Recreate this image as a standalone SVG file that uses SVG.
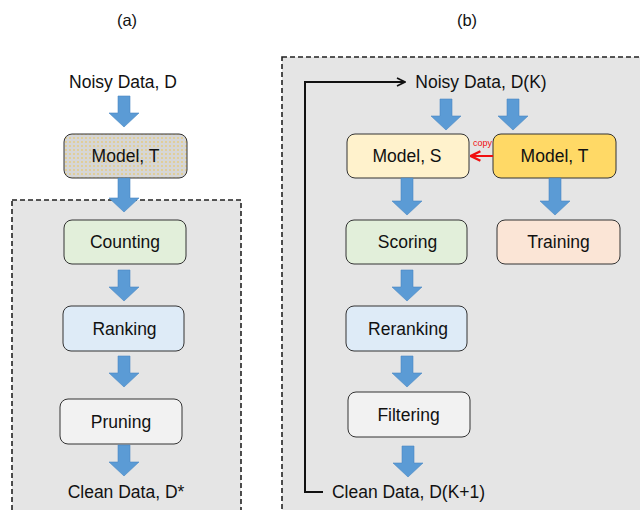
<svg xmlns="http://www.w3.org/2000/svg" width="640" height="510" viewBox="0 0 640 510">
<defs>
<style>
text{font-family:"Liberation Sans",Arial,sans-serif;fill:#111;text-anchor:middle}
.lbl{font-size:17.5px}
.ttl{font-size:16.5px}
.panel{fill:#e5e5e5;stroke:#222;stroke-width:1.6;stroke-dasharray:5 3}
.box{stroke:#333;stroke-width:1}
.arr{fill:#5b9bd5;stroke:#4a88c2;stroke-width:0.6}
.fb{fill:none;stroke:#111;stroke-width:2}
</style>
<pattern id="dots" width="4" height="4" patternUnits="userSpaceOnUse">
<rect width="4" height="4" fill="#d6d6d6"/>
<circle cx="2" cy="2" r="0.7" fill="#f2c230"/>
</pattern>
<marker id="open" viewBox="0 0 10 10" refX="9" refY="5" markerWidth="5" markerHeight="5" orient="auto" markerUnits="strokeWidth">
<path d="M1 1 L9 5 L1 9" fill="none" stroke="#111" stroke-width="1.6"/>
</marker>
<marker id="red" viewBox="0 0 10 10" refX="8" refY="5" markerWidth="6" markerHeight="6" orient="auto" markerUnits="strokeWidth">
<path d="M1 1 L9 5 L1 9" fill="none" stroke="#f01010" stroke-width="2"/>
</marker>
</defs>

<text class="ttl" x="127" y="26">(a)</text>
<text class="ttl" x="467" y="26">(b)</text>

<rect class="panel" x="12" y="200" width="229" height="330"/>
<rect class="panel" x="282" y="57" width="380" height="470"/>

<g id="a-noisy"><text class="lbl" x="123" y="88">Noisy Data, D</text></g>
<g id="a-model-t"><rect class="box" x="64" y="134" width="123" height="44" rx="8" fill="url(#dots)"/><text class="lbl" x="125.5" y="162">Model, T</text></g>
<g id="a-counting"><rect class="box" x="64" y="220" width="122" height="44" rx="8" fill="#e2efda"/><text class="lbl" x="125" y="248">Counting</text></g>
<g id="a-ranking"><rect class="box" x="63" y="306" width="121" height="45" rx="8" fill="#deebf7"/><text class="lbl" x="124.5" y="334.5">Ranking</text></g>
<g id="a-pruning"><rect class="box" x="60" y="399" width="122" height="45" rx="8" fill="#f2f2f2"/><text class="lbl" x="121" y="427.5">Pruning</text></g>
<g id="a-clean"><text class="lbl" x="126" y="498">Clean Data, D*</text></g>

<g id="b-noisy"><text class="lbl" x="481" y="88">Noisy Data, D(K)</text></g>
<g id="b-model-s"><rect class="box" x="347" y="134" width="122" height="44" rx="8" fill="#fff2cc"/><text class="lbl" x="407" y="162">Model, S</text></g>
<g id="b-model-t"><rect class="box" x="493" y="134" width="123" height="44" rx="8" fill="#ffd966"/><text class="lbl" x="554.5" y="162">Model, T</text></g>
<g id="b-scoring"><rect class="box" x="346" y="220" width="121" height="44" rx="8" fill="#e2efda"/><text class="lbl" x="407.5" y="248">Scoring</text></g>
<g id="b-training"><rect class="box" x="497" y="220" width="123" height="44" rx="8" fill="#fbe5d6"/><text class="lbl" x="558.5" y="248">Training</text></g>
<g id="b-reranking"><rect class="box" x="346" y="306" width="121" height="45" rx="8" fill="#deebf7"/><text class="lbl" x="408" y="334.5">Reranking</text></g>
<g id="b-filtering"><rect class="box" x="348" y="392" width="122" height="45" rx="8" fill="#f2f2f2"/><text class="lbl" x="408.5" y="420.5">Filtering</text></g>
<g id="b-clean"><text class="lbl" x="408.5" y="498">Clean Data, D(K+1)</text></g>

<g id="connectors">
<path class="arr" d="M118 96H130V113H139L124 127L109 113H118Z"/>
<path class="arr" d="M118 178H130V198H139L124 212L109 198H118Z"/>
<path class="arr" d="M118 270H130V287H139L124 301L109 287H118Z"/>
<path class="arr" d="M118 356H130V373H139L124 387L109 373H118Z"/>
<path class="arr" d="M118 445H130V462H139L124 476L109 462H118Z"/>

<path class="arr" d="M440 99H452V116H461L446 130L431 116H440Z"/>
<path class="arr" d="M507 99H519V116H528L513 130L498 116H507Z"/>
<path class="arr" d="M401 178H413V201H422L407 215L392 201H401Z"/>
<path class="arr" d="M549 178H561V201H570L555 215L540 201H549Z"/>
<path class="arr" d="M401 270H413V287H422L407 301L392 287H401Z"/>
<path class="arr" d="M401 356H413V373H422L407 387L392 373H401Z"/>
<path class="arr" d="M402 446H414V463H423L408 477L393 463H402Z"/>

<path class="fb" d="M323 492H305V82H405" marker-end="url(#open)"/>
<line x1="493" y1="156" x2="472" y2="156" stroke="#f01010" stroke-width="2" marker-end="url(#red)"/>
<text x="482.5" y="146" style="font-size:9px;fill:#f01010">copy</text>
</g>
</svg>
